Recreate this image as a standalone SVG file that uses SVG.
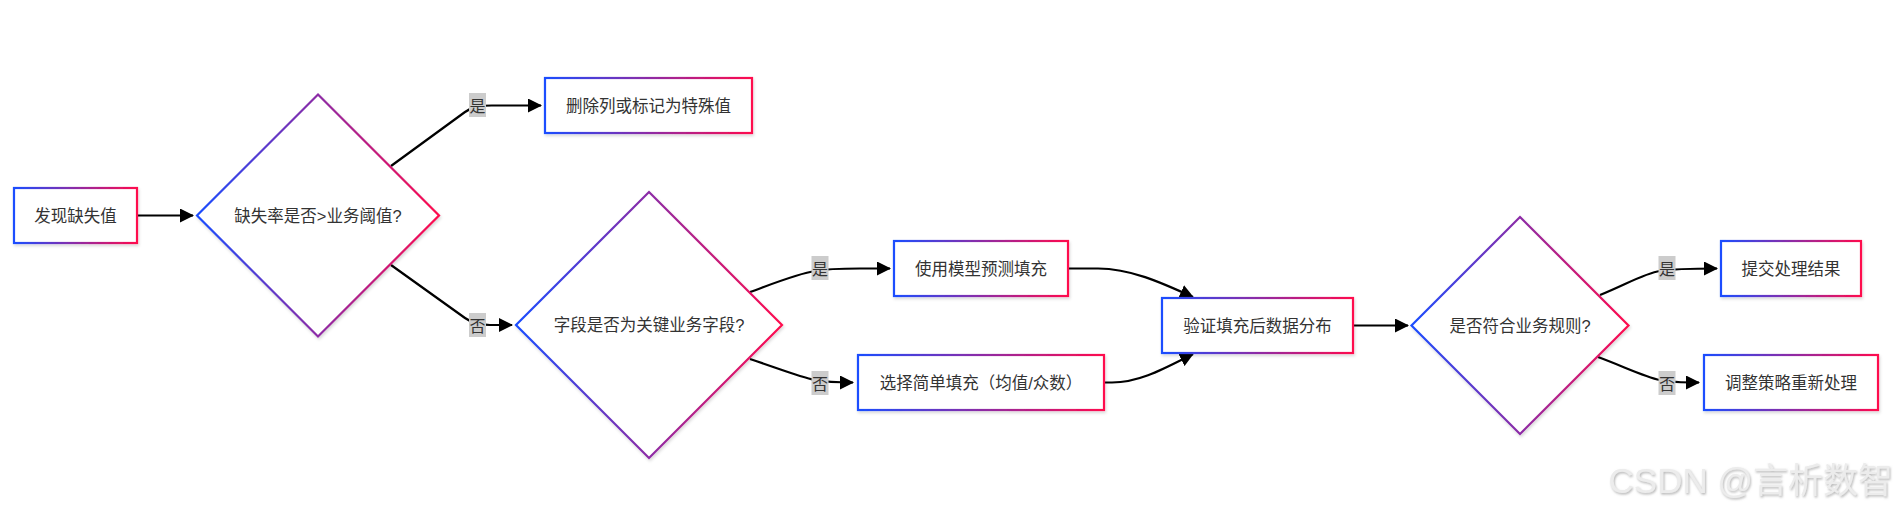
<svg xmlns="http://www.w3.org/2000/svg" width="1901" height="515" viewBox="0 0 1901 515">
<defs>
<linearGradient id="g" x1="0" y1="0" x2="1" y2="0">
<stop offset="0" stop-color="#1a4dff"/>
<stop offset="1" stop-color="#ff0a4d"/>
</linearGradient>
<filter id="sh" x="-10%" y="-10%" width="130%" height="140%">
<feDropShadow dx="1" dy="2" stdDeviation="1.5" flood-color="#000" flood-opacity="0.15"/>
</filter>
<filter id="wm" x="-5%" y="-20%" width="110%" height="150%">
<feDropShadow dx="1" dy="1.5" stdDeviation="0.8" flood-color="#999" flood-opacity="0.7"/>
</filter>
<marker id="ah" markerUnits="userSpaceOnUse" markerWidth="14" markerHeight="14" viewBox="0 0 14 14" refX="13" refY="7" orient="auto">
<path d="M0,0 L14,7 L0,14 z" fill="#000"/>
</marker>
<style>
.n{fill:#fff;stroke:url(#g);stroke-width:2.2;filter:url(#sh)}
.t{font-family:"Liberation Sans","Noto Sans CJK SC",sans-serif;font-size:16.5px;fill:#333;text-anchor:middle;dominant-baseline:central}
.e{fill:none;stroke:#000;stroke-width:2.2;marker-end:url(#ah)}
.lb{fill:#cccccc}
.lt{font-family:"Noto Sans CJK SC",sans-serif;font-size:16px;fill:#333;text-anchor:middle;dominant-baseline:central}
</style>
</defs>
<rect width="1901" height="515" fill="#fff"/>

<g id="connectors">
<path class="e" d="M137,215.5 L193,215.5"/>
<path class="e" d="M391,166 L465,112 C472,107 479,105.5 492,105.5 L541,105.5"/>
<path class="e" d="M391,265 L465,318 C472,323 479,325 490,325 L512,325"/>
<path class="e" d="M750,292 C780,281 800,273 815,271 C828,268.5 845,268.5 860,268.5 L890,268.5"/>
<path class="e" d="M750,359 C780,369 800,377 815,380 C828,382.5 838,382.5 853,382.5"/>
<path class="e" d="M1068,268.5 L1098,268.5 C1130,268.5 1160,282 1193,297"/>
<path class="e" d="M1104,382.5 L1112,382.5 C1140,382.5 1165,368 1193,354"/>
<path class="e" d="M1353,325.5 L1408,325.5"/>
<path class="e" d="M1600,295 C1625,285 1645,273 1660,271 C1675,268.5 1690,268.5 1717,268.5"/>
<path class="e" d="M1598,357 C1625,367 1645,377 1660,380 C1672,382.5 1682,382.5 1699,382.5"/>
<g id="labels">
<rect class="lb" x="469" y="93" width="17" height="24"/><text class="lt" x="477.5" y="105">是</text>
<rect class="lb" x="469" y="313" width="17" height="24"/><text class="lt" x="477.5" y="325">否</text>
<rect class="lb" x="811.5" y="256" width="17" height="24"/><text class="lt" x="820" y="268">是</text>
<rect class="lb" x="811.5" y="371" width="17" height="24"/><text class="lt" x="820" y="383">否</text>
<rect class="lb" x="1658.5" y="256" width="17" height="24"/><text class="lt" x="1667" y="268">是</text>
<rect class="lb" x="1658.5" y="371" width="17" height="24"/><text class="lt" x="1667" y="383">否</text>
</g>
</g>

<g id="n_start"><rect class="n" x="14" y="188" width="123" height="55"/><text class="t" x="75.5" y="215.5">发现缺失值</text></g>
<g id="n_d1"><polygon class="n" points="318,94.5 439,215.5 318,336.5 197,215.5"/><text class="t" x="318" y="215.5">缺失率是否&gt;业务阈值?</text></g>
<g id="n_del"><rect class="n" x="545" y="78" width="207" height="55"/><text class="t" x="648.5" y="105.5">删除列或标记为特殊值</text></g>
<g id="n_d2"><polygon class="n" points="649,192 782,325 649,458 516,325"/><text class="t" x="649" y="325">字段是否为关键业务字段?</text></g>
<g id="n_model"><rect class="n" x="894" y="241" width="174" height="55"/><text class="t" x="981" y="268.5">使用模型预测填充</text></g>
<g id="n_simple"><rect class="n" x="858" y="355" width="246" height="55"/><text class="t" x="981" y="382.5">选择简单填充（均值/众数）</text></g>
<g id="n_verify"><rect class="n" x="1162" y="298" width="191" height="55"/><text class="t" x="1257.5" y="325.5">验证填充后数据分布</text></g>
<g id="n_d3"><polygon class="n" points="1520,217 1628.5,325.5 1520,434 1411.5,325.5"/><text class="t" x="1520" y="325.5">是否符合业务规则?</text></g>
<g id="n_submit"><rect class="n" x="1721" y="241" width="140" height="55"/><text class="t" x="1791" y="268.5">提交处理结果</text></g>
<g id="n_adjust"><rect class="n" x="1704" y="355" width="174" height="55"/><text class="t" x="1791" y="382.5">调整策略重新处理</text></g>

<text x="1893" y="493" font-family="Liberation Sans,'Noto Sans CJK SC',sans-serif" font-size="35" fill="#ececec" text-anchor="end" filter="url(#wm)">CSDN @言析数智</text>
</svg>
